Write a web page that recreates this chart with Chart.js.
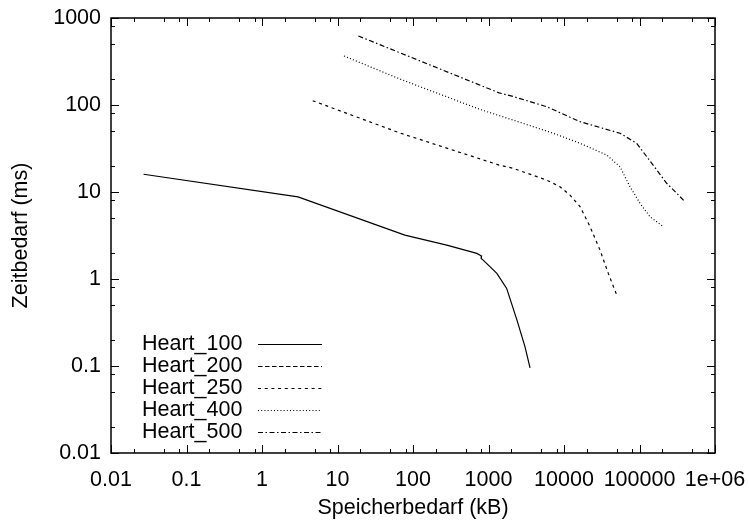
<!DOCTYPE html>
<html>
<head>
<meta charset="utf-8">
<script src="https://cdn.jsdelivr.net/npm/chart.js@4.4.1/dist/chart.umd.min.js"></script>
<style>
html,body{margin:0;padding:0;background:#fff;}
#c{display:block;}
</style>
</head>
<body>
<canvas id="c" width="749" height="522"></canvas>
<script>
// ---- data ----
const seriesNames = ['Heart_100', 'Heart_200', 'Heart_250', 'Heart_400', 'Heart_500'];

const heart100X = [0.027, 3.0, 78, 280, 700, 810, 800, 850, 950, 1290, 1740, 2400, 3040, 3550];
const heart100Y = [16, 8.8, 3.2, 2.45, 1.97, 1.84, 1.72, 1.65, 1.5, 1.16, 0.78, 0.33, 0.167, 0.095];

const heart200X = [];
const heart200Y = [];

const heart250X = [4.7, 67, 1380, 2130, 5900, 8850, 12000, 16300, 22100, 30000, 38600, 49900];
const heart250Y = [112, 47.7, 20.4, 18.7, 13.7, 11.5, 9.2, 6.8, 4.0, 2.15, 1.16, 0.655];

const heart400X = [12.2, 67, 771, 2130, 7210, 16300, 36800, 55200, 74800, 101600, 137700, 206500];
const heart400Y = [366, 199, 89, 67, 47.3, 36.3, 26.6, 19.5, 11.5, 7.4, 5.2, 4.0];

const heart500X = [18.9, 1380, 2130, 5900, 16300, 55200, 91800, 124500, 169000, 229000, 311000, 401000];
const heart500Y = [621, 138, 125, 95.6, 64.3, 47.3, 36.3, 25.5, 17.9, 12.6, 9.7, 7.7];

const xTickValues = [0.01, 0.1, 1, 10, 100, 1000, 10000, 100000, 1000000];
const xTickLabels = ['0.01', '0.1', '1', '10', '100', '1000', '10000', '100000', '1e+06'];
const yTickValues = [0.01, 0.1, 1, 10, 100, 1000];
const yTickLabels = ['0.01', '0.1', '1', '10', '100', '1000'];
const minorMultipliers = [2, 5, 8];

const xTitle = 'Speicherbedarf (kB)';
const yTitle = 'Zeitbedarf (ms)';

// ---- build ----
function pts(xs, ys) { return xs.map((x, i) => ({ x: x, y: ys[i] })); }
const dashes = [[], [4.5, 2.5], [3, 3.7], [1, 2.2], [5, 2.5, 1.5, 2.5]];
const seriesX = [heart100X, heart200X, heart250X, heart400X, heart500X];
const seriesY = [heart100Y, heart200Y, heart250Y, heart400Y, heart500Y];

const FONT = 'Liberation Sans, Arial, sans-serif';
const FS = 21.5;

const datasets = seriesNames.map((n, i) => ({
  label: n,
  data: pts(seriesX[i], seriesY[i]),
  borderColor: '#000',
  borderWidth: 1.2,
  borderDash: dashes[i],
  pointRadius: 0,
  tension: 0,
  fill: false
}));

const framePlugin = {
  id: 'frame',
  afterDraw(chart) {
    const ctx = chart.ctx, a = chart.chartArea;
    const xs = chart.scales.x, ys = chart.scales.y;
    ctx.save();
    ctx.strokeStyle = '#000';
    ctx.lineWidth = 1;
    const drawX = (v, len) => {
      const p = Math.round(xs.getPixelForValue(v)) + 0.5;
      ctx.beginPath();
      ctx.moveTo(p, a.bottom); ctx.lineTo(p, a.bottom - len);
      ctx.moveTo(p, a.top); ctx.lineTo(p, a.top + len);
      ctx.stroke();
    };
    const drawY = (v, len) => {
      const p = Math.round(ys.getPixelForValue(v)) + 0.5;
      ctx.beginPath();
      ctx.moveTo(a.left, p); ctx.lineTo(a.left + len, p);
      ctx.moveTo(a.right, p); ctx.lineTo(a.right - len, p);
      ctx.stroke();
    };
    xTickValues.forEach((v, i) => {
      drawX(v, 8);
      if (i < xTickValues.length - 1) minorMultipliers.forEach(m => drawX(v * m, 4));
    });
    yTickValues.forEach((v, i) => {
      drawY(v, 8);
      if (i < yTickValues.length - 1) minorMultipliers.forEach(m => drawY(v * m, 4));
    });
    ctx.lineWidth = 1.5;
    ctx.strokeRect(a.left, a.top, a.right - a.left, a.bottom - a.top);
    // legend
    ctx.font = FS + 'px ' + FONT;
    ctx.fillStyle = '#000';
    ctx.textBaseline = 'middle';
    ctx.textAlign = 'left';
    chart.data.datasets.forEach((ds, i) => {
      const y = a.bottom - 109 + 22 * i;
      ctx.fillText(ds.label, a.left + 31, y);
      ctx.save();
      ctx.lineWidth = 1.2;
      ctx.setLineDash(ds.borderDash);
      ctx.beginPath();
      ctx.moveTo(a.left + 147, y + 0.5);
      ctx.lineTo(a.left + 211, y + 0.5);
      ctx.stroke();
      ctx.restore();
    });
    ctx.restore();
  }
};

new Chart(document.getElementById('c'), {
  type: 'line',
  data: { datasets: datasets },
  options: {
    responsive: false,
    animation: false,
    devicePixelRatio: 1,
    layout: { padding: { top: 18, right: 34, left: 0, bottom: 0 } },
    plugins: { legend: { display: false }, tooltip: { enabled: false } },
    scales: {
      x: {
        type: 'logarithmic',
        position: 'bottom',
        min: 0.01, max: 1000000,
        grid: { display: false, drawTicks: false, tickLength: 0 },
        border: { display: false },
        afterBuildTicks: s => { s.ticks = xTickValues.map(v => ({ value: v })); },
        afterFit: s => { s.height = 69; s.paddingLeft = 0; s.paddingRight = 0; },
        ticks: {
          autoSkip: false, maxRotation: 0, padding: 14, color: '#000',
          font: { family: FONT, size: FS },
          callback: (v) => { const k = xTickValues.indexOf(v); return k >= 0 ? xTickLabels[k] : ''; }
        },
        title: { display: true, text: xTitle, color: '#000', font: { family: FONT, size: FS }, padding: { top: 4, bottom: 1 } }
      },
      y: {
        type: 'logarithmic',
        position: 'left',
        min: 0.01, max: 1000,
        grid: { display: false, drawTicks: false, tickLength: 0 },
        border: { display: false },
        afterBuildTicks: s => { s.ticks = yTickValues.map(v => ({ value: v })); },
        afterFit: s => { s.width = 111; s.paddingTop = 0; s.paddingBottom = 0; },
        ticks: {
          autoSkip: false, padding: 10, color: '#000',
          font: { family: FONT, size: FS },
          callback: (v) => { const k = yTickValues.indexOf(v); return k >= 0 ? yTickLabels[k] : ''; }
        },
        title: { display: true, text: yTitle, color: '#000', font: { family: FONT, size: FS }, padding: { top: 8, bottom: 4 } }
      }
    }
  },
  plugins: [framePlugin]
});
</script>
</body>
</html>
